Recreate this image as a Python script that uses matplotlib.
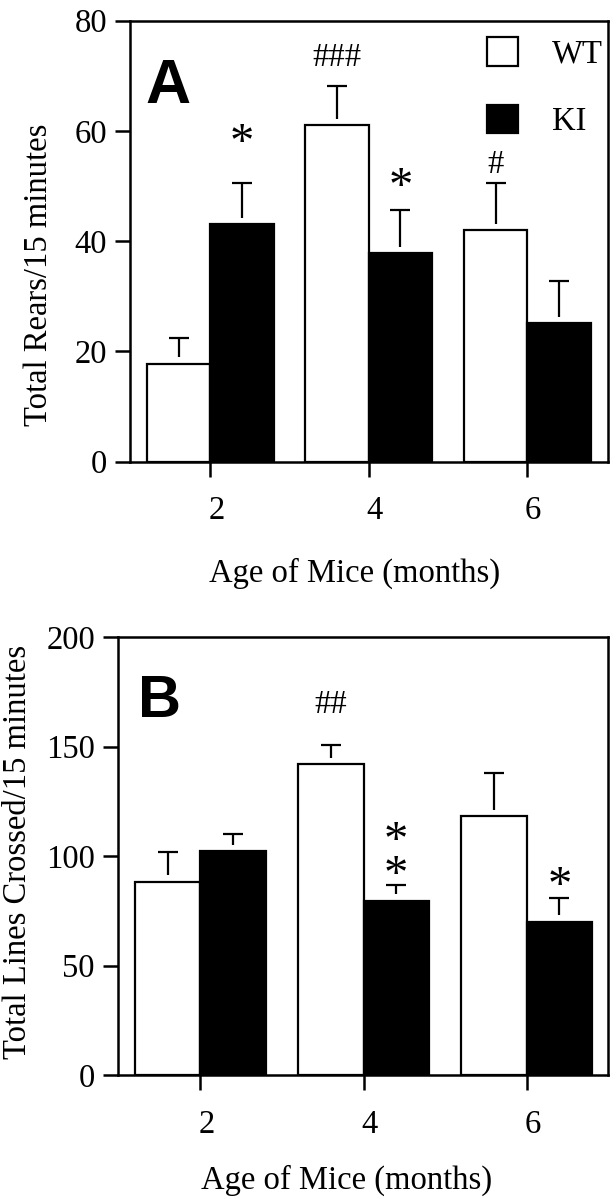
import numpy as np
import matplotlib
matplotlib.use("Agg")
import matplotlib.pyplot as plt
import matplotlib.transforms as mtransforms
from matplotlib.patches import Patch
from matplotlib.font_manager import FontProperties

plt.rcParams['font.family'] = ['Liberation Serif', 'DejaVu Serif']

# ---------------- data ----------------
months = np.array([2, 4, 6])
month_labels = ['2', '4', '6']

rears_wt = np.array([17.8, 61.0, 42.0])
rears_wt_sem = np.array([4.6, 7.1, 8.5])
rears_ki = np.array([43.1, 37.8, 25.1])
rears_ki_sem = np.array([7.5, 7.8, 7.7])

lines_wt = np.array([88.2, 141.9, 118.2])
lines_wt_sem = np.array([13.4, 8.9, 19.5])
lines_ki = np.array([102.1, 79.6, 69.9])
lines_ki_sem = np.array([8.1, 7.3, 10.8])

# significance marks: (group index, series, label, y of the mark's centre)
rears_marks = [(0, 'KI', '*', 59.6), (1, 'WT', '###', 73.8),
               (1, 'KI', '*', 51.7), (2, 'WT', '#', 54.4)]
lines_marks = [(1, 'WT', '##', 170.5), (1, 'KI', '*\n*', 104.3),
               (2, 'KI', '*', 90.9)]

# ---------------- style ----------------
W, H = 616, 1199
FS = 23.5
STAR_FS = 35
STACK_PX = 31
BW = 0.8
SPINE_LW = 1.8
BAR_LW = 1.6
ERR_LW = 1.6
CAP_PT = 14
GAP_PX = 6.5

fig = plt.figure(figsize=(W / 100, H / 100), dpi=100)
renderer = fig.canvas.get_renderer()
axA = fig.add_axes([130 / W, 1 - 461.7 / H, 478 / W, 441 / H])
axB = fig.add_axes([117.9 / W, 1 - 1075 / H, 490.4 / W, 438 / H])


def mark_offset(txt, size):
    """pixel offset (top of text box above the data point) so that the
    ink of the mark block is centred on the data point"""
    prop = FontProperties(family='Liberation Serif', size=size)
    _, lp_h, lp_d = renderer.get_text_width_height_descent('lp', prop, False)
    asc = lp_h - lp_d
    lines = txt.split('\n')
    _, h, d = renderer.get_text_width_height_descent(lines[0], prop, False)
    ink_c = h / 2 - d
    n = len(lines)
    ls = STACK_PX / asc
    dy = (n - 1) * STACK_PX / 2 - ink_c + asc
    return dy, ls


def panel(ax, wt, wt_sem, ki, ki_sem, ylim, yticks, xlim, marks, letter,
          letter_pos, letter_fs, ylabel, ylabel_pos, xlabel_pos, h_px):
    xw = months - BW / 2
    xk = months + BW / 2
    ax.bar(xw, wt, width=BW, facecolor='white', edgecolor='black',
           linewidth=BAR_LW, zorder=2)
    ax.bar(xk, ki, width=BW, facecolor='black', edgecolor='black',
           linewidth=BAR_LW, zorder=2)
    gap = GAP_PX * (ylim[1] - ylim[0]) / h_px
    for x, v, e in [(xw, wt, wt_sem), (xk, ki, ki_sem)]:
        ax.vlines(x, v + gap, v + e, color='black', linewidth=ERR_LW, zorder=3)
        ax.plot(x, v + e, linestyle='none', marker='_', markersize=CAP_PT,
                markeredgewidth=ERR_LW, color='black', zorder=3)
    for gi, series, txt, y in marks:
        x = months[gi] + (-BW / 2 if series == 'WT' else BW / 2)
        size = STAR_FS if txt.startswith('*') else FS
        dy, ls = mark_offset(txt, size)
        t = ax.annotate(txt, xy=(x, y), xytext=(0, dy),
                        textcoords='offset pixels', ha='center', va='top',
                        multialignment='center', linespacing=ls,
                        fontsize=size, zorder=4)
        if '\n' in txt:
            # make the baseline-to-baseline step exactly STACK_PX
            try:
                _, info, _ = t._get_layout(renderer)
                step = abs(info[0][3] - info[1][3])
                if step > 0:
                    t.set_linespacing(ls * STACK_PX / step)
            except Exception:
                pass
    ax.set_xlim(*xlim)
    ax.set_ylim(*ylim)
    ax.set_yticks(yticks)
    ax.set_yticklabels([str(t) for t in yticks])
    ax.set_xticks(months)
    ax.set_xticklabels(month_labels)
    ax.tick_params(axis='both', direction='out', length=10.5, width=SPINE_LW,
                   labelsize=FS, top=False, right=False)
    ax.tick_params(axis='y', pad=6)
    ax.tick_params(axis='x', pad=14)
    shift = mtransforms.ScaledTranslation(6 / 100, 0, fig.dpi_scale_trans)
    for lab in ax.get_xticklabels():
        lab.set_transform(lab.get_transform() + shift)
    for s in ax.spines.values():
        s.set_linewidth(SPINE_LW)
    ax.text(letter_pos[0], letter_pos[1], letter, transform=ax.transAxes,
            fontsize=letter_fs, fontweight='bold', family='Liberation Sans',
            ha='left', va='baseline')
    ax.set_ylabel(ylabel, fontsize=FS, va='center')
    ax.yaxis.set_label_coords(*ylabel_pos)
    ax.set_xlabel('Age of Mice (months)', fontsize=FS, va='center')
    ax.xaxis.set_label_coords(*xlabel_pos)


panel(axA, rears_wt, rears_wt_sem, rears_ki, rears_ki_sem, (0, 80),
      [0, 20, 40, 60, 80], (0.985, 7.02), rears_marks, 'A', (0.033, 0.813), 45,
      'Total Rears/15 minutes', ((39 - 130) / 478, 0.423),
      ((355 - 130) / 478, (461.7 - 573) / 441), 441)

panel(axB, lines_wt, lines_wt_sem, lines_ki, lines_ki_sem, (0, 200),
      [0, 50, 100, 150, 200], (0.988, 7.0), lines_marks, 'B', (0.04, 0.817), 43,
      'Total Lines Crossed/15 minutes', ((18 - 117.9) / 490.4, 0.51),
      ((347 - 117.9) / 490.4, (1075 - 1180) / 438), 438)

handles = [Patch(facecolor='white', edgecolor='black', linewidth=BAR_LW, label='WT'),
           Patch(facecolor='black', edgecolor='black', linewidth=BAR_LW, label='KI')]
axA.legend(handles=handles, loc='upper left',
           bbox_to_anchor=((487 - 130) / 478, (461.7 - 37.5) / 441),
           frameon=False, fontsize=FS, handlelength=0.95, handleheight=0.95,
           handletextpad=1.05, labelspacing=1.07, borderpad=0, borderaxespad=0)

fig.savefig('out.png', dpi=100)
